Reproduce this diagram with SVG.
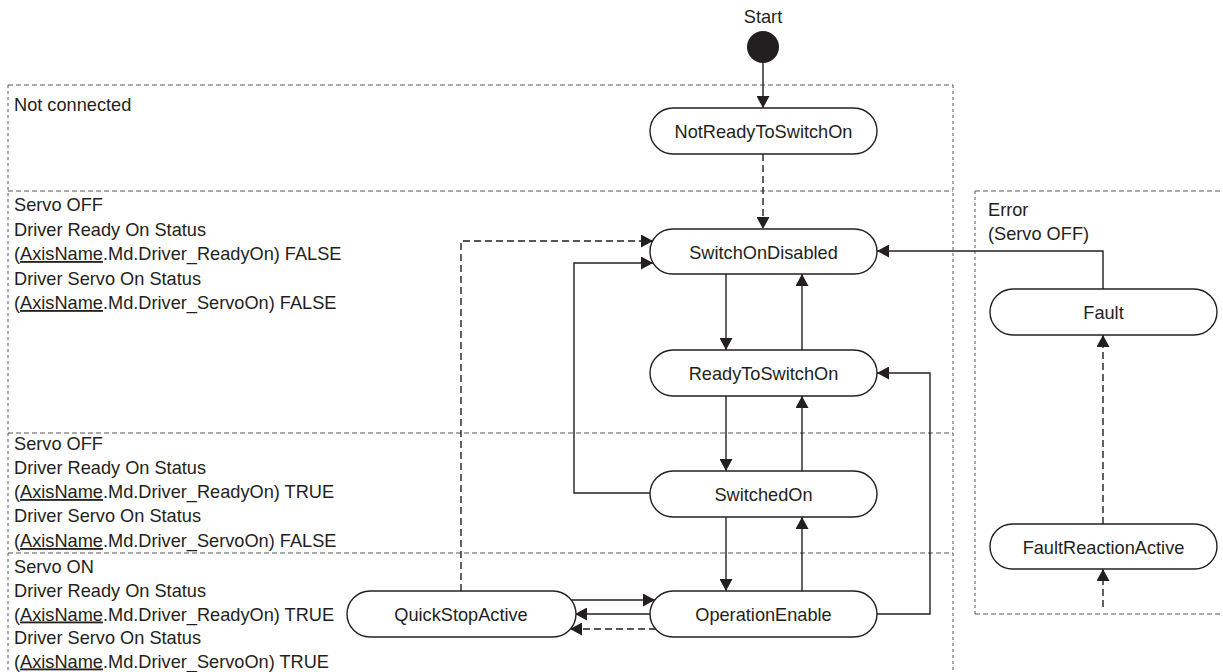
<svg xmlns="http://www.w3.org/2000/svg" width="1223" height="672" viewBox="0 0 1223 672">
<style>
text{font-family:"Liberation Sans",Arial,sans-serif;font-size:18.2px;fill:#231f20}
.lbl{text-anchor:middle}
.node rect{fill:#fff;stroke:#231f20;stroke-width:1.4}
.c{fill:none;stroke:#231f20;stroke-width:1.4}
.d{stroke-dasharray:7 4}
.rh{fill:none;stroke:#555;stroke-width:1;stroke-dasharray:5 3}
.rv{fill:none;stroke:#555;stroke-width:1;stroke-dasharray:3 3}
.u{text-decoration:underline}
</style>
<defs>
<marker id="ah" markerUnits="userSpaceOnUse" markerWidth="13" markerHeight="13" refX="12" refY="6.5" orient="auto">
<path d="M0,0 L12,6.5 L0,13 z" fill="#231f20"/>
</marker>
</defs>
<g id="regions">
<line class="rh" x1="8" y1="85" x2="953" y2="85"/>
<line class="rh" x1="8" y1="191" x2="953" y2="191"/>
<line class="rh" x1="8" y1="433" x2="953" y2="433"/>
<line class="rh" x1="8" y1="553" x2="953" y2="553"/>
<line class="rv" x1="8" y1="85" x2="8" y2="672"/>
<line class="rv" x1="953" y1="85" x2="953" y2="672"/>
<line class="rh" x1="975" y1="191" x2="1223" y2="191"/>
<line class="rh" x1="975" y1="614" x2="1223" y2="614"/>
<line class="rv" x1="975" y1="191" x2="975" y2="614"/>
</g>
<g id="region-labels">
<text x="14" y="111">Not connected</text>
<text x="14" y="211">Servo OFF</text>
<text x="14" y="235.5">Driver Ready On Status</text>
<text x="14" y="260">(<tspan class="u">AxisName</tspan>.Md.Driver_ReadyOn) FALSE</text>
<text x="14" y="284.5">Driver Servo On Status</text>
<text x="14" y="309">(<tspan class="u">AxisName</tspan>.Md.Driver_ServoOn) FALSE</text>
<text x="14" y="450">Servo OFF</text>
<text x="14" y="474">Driver Ready On Status</text>
<text x="14" y="498">(<tspan class="u">AxisName</tspan>.Md.Driver_ReadyOn) TRUE</text>
<text x="14" y="522">Driver Servo On Status</text>
<text x="14" y="547">(<tspan class="u">AxisName</tspan>.Md.Driver_ServoOn) FALSE</text>
<text x="14" y="572.5">Servo ON</text>
<text x="14" y="596.5">Driver Ready On Status</text>
<text x="14" y="620.5">(<tspan class="u">AxisName</tspan>.Md.Driver_ReadyOn) TRUE</text>
<text x="14" y="644">Driver Servo On Status</text>
<text x="14" y="667.5">(<tspan class="u">AxisName</tspan>.Md.Driver_ServoOn) TRUE</text>
<text x="988" y="216">Error</text>
<text x="988" y="240">(Servo OFF)</text>
</g>
<g id="connectors">
<line class="c" x1="763" y1="63" x2="763" y2="108" marker-end="url(#ah)"/>
<line class="c d" x1="763" y1="154" x2="763" y2="229" marker-end="url(#ah)"/>
<line class="c" x1="726" y1="274" x2="726" y2="350" marker-end="url(#ah)"/>
<line class="c" x1="802" y1="350" x2="802" y2="274" marker-end="url(#ah)"/>
<line class="c" x1="726" y1="396" x2="726" y2="471" marker-end="url(#ah)"/>
<line class="c" x1="802" y1="471" x2="802" y2="396" marker-end="url(#ah)"/>
<line class="c" x1="726" y1="517" x2="726" y2="591" marker-end="url(#ah)"/>
<line class="c" x1="802" y1="591" x2="802" y2="517" marker-end="url(#ah)"/>
<polyline class="c" points="650,493 574,493 574,263 653,263" marker-end="url(#ah)"/>
<polyline class="c d" points="461,591 461,241 653,241" marker-end="url(#ah)"/>
<line class="c" x1="570" y1="600" x2="655" y2="600" marker-end="url(#ah)"/>
<line class="c" x1="650" y1="614" x2="575" y2="614" marker-end="url(#ah)"/>
<line class="c d" x1="656" y1="629" x2="570" y2="629" marker-end="url(#ah)"/>
<polyline class="c" points="877,614 930,614 930,373 877,373" marker-end="url(#ah)"/>
<polyline class="c" points="1103,289 1103,251 877,251" marker-end="url(#ah)"/>
<line class="c d" x1="1103" y1="524" x2="1103" y2="335" marker-end="url(#ah)"/>
<line class="c d" x1="1103" y1="607" x2="1103" y2="569" marker-end="url(#ah)"/>
</g>
<g id="start">
<text class="lbl" x="763" y="23">Start</text>
<circle cx="763" cy="47" r="16" fill="#231f20"/>
</g>
<g id="NotReadyToSwitchOn" class="node">
<rect x="650" y="108" width="227" height="46" rx="23"/>
<text class="lbl" x="763.5" y="138">NotReadyToSwitchOn</text>
</g>
<g id="SwitchOnDisabled" class="node">
<rect x="650" y="229" width="227" height="45" rx="22.5"/>
<text class="lbl" x="763.5" y="258.5">SwitchOnDisabled</text>
</g>
<g id="ReadyToSwitchOn" class="node">
<rect x="650" y="350" width="227" height="46" rx="23"/>
<text class="lbl" x="763.5" y="380">ReadyToSwitchOn</text>
</g>
<g id="SwitchedOn" class="node">
<rect x="650" y="471" width="227" height="46" rx="23"/>
<text class="lbl" x="763.5" y="501">SwitchedOn</text>
</g>
<g id="OperationEnable" class="node">
<rect x="650" y="591" width="227" height="46" rx="23"/>
<text class="lbl" x="763.5" y="621">OperationEnable</text>
</g>
<g id="QuickStopActive" class="node">
<rect x="347" y="591" width="229" height="46" rx="23"/>
<text class="lbl" x="461" y="621">QuickStopActive</text>
</g>
<g id="Fault" class="node">
<rect x="990" y="289" width="227" height="46" rx="23"/>
<text class="lbl" x="1103.5" y="319">Fault</text>
</g>
<g id="FaultReactionActive" class="node">
<rect x="990" y="524" width="227" height="45" rx="22.5"/>
<text class="lbl" x="1103.5" y="553.5">FaultReactionActive</text>
</g>
</svg>
